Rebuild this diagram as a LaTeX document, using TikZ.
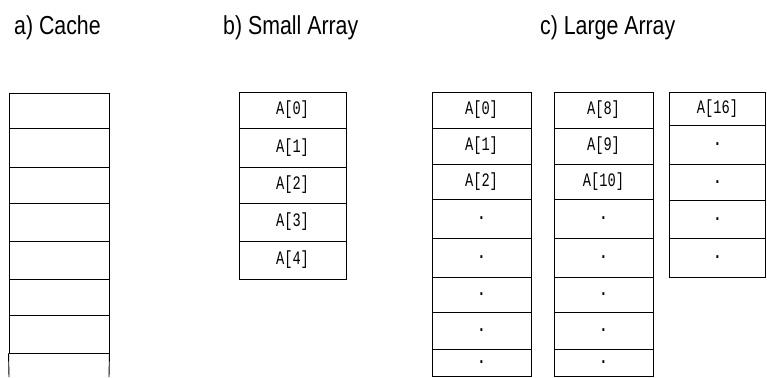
\documentclass[tikz,border=0pt]{standalone}
\usepackage{fontspec}
\newfontfamily\titlefont[FakeStretch=0.82]{Liberation Sans}
\newfontfamily\cellfont[FakeStretch=0.72]{Liberation Mono}
\newcommand\celldot{\textbf{.}}
\begin{document}
\begin{tikzpicture}[x=1pt,y=-1pt,
  title/.style={font=\titlefont\fontsize{26}{26}\selectfont, anchor=base west, inner sep=0pt},
  cell/.style={draw=black, line width=0.9pt, rectangle, inner sep=0pt,
    font=\cellfont\fontsize{19}{19}\selectfont},
  edge/.style={draw=black, line width=0.9pt}]
\useasboundingbox (0,0) rectangle (767,377);

% headings
\node[title] (ta) at (14,35) {a) Cache};
\node[title] (tb) at (223,35) {b) Small Array};
\node[title] (tc) at (540,35) {c) Large Array};

% a) cache: seven closed lines and one open at the bottom
\foreach \t/\b [count=\i] in {93/128,128/167,167/203,203/241,241/279,279/315,315/353}{
  \node[cell, minimum width=100pt, minimum height={\b-\t}] (c\i) at (59,{(\t+\b)/2}) {};
}
\coordinate (cbl) at (9,377);
\coordinate (cbr) at (109,377);
\draw[edge] (c7.south west) -- (cbl);
\draw[edge] (c7.south east) -- (cbr);

% b) small array
\foreach \t/\b/\s [count=\i] in {92/128/0,128/167/1,167/203/2,203/241/3,241/279/4}{
  \node[cell, minimum width=107pt, minimum height={\b-\t}] (s\i) at (292.5,{(\t+\b)/2}) {A[\s]};
}

% c) large array, first column
\foreach \t/\b/\s [count=\i] in {92/128/A[0],128/164/A[1],164/199/A[2],199/238/\celldot,238/277/\celldot,277/312/\celldot,312/349/\celldot,349/376/\celldot}{
  \node[cell, minimum width=99pt, minimum height={\b-\t}] (l\i) at (481.5,{(\t+\b)/2}) {\s};
}
% second column
\foreach \t/\b/\s [count=\i] in {92/128/A[8],128/164/A[9],164/199/A[10],199/238/\celldot,238/277/\celldot,277/312/\celldot,312/349/\celldot,349/376/\celldot}{
  \node[cell, minimum width=99pt, minimum height={\b-\t}] (m\i) at (603.5,{(\t+\b)/2}) {\s};
}
% third column
\foreach \t/\b/\s [count=\i] in {92/125/A[16],125/164/\celldot,164/200/\celldot,200/238/\celldot,238/277/\celldot}{
  \node[cell, minimum width=96pt, minimum height={\b-\t}] (r\i) at (717.5,{(\t+\b)/2}) {\s};
}
\end{tikzpicture}
\end{document}
